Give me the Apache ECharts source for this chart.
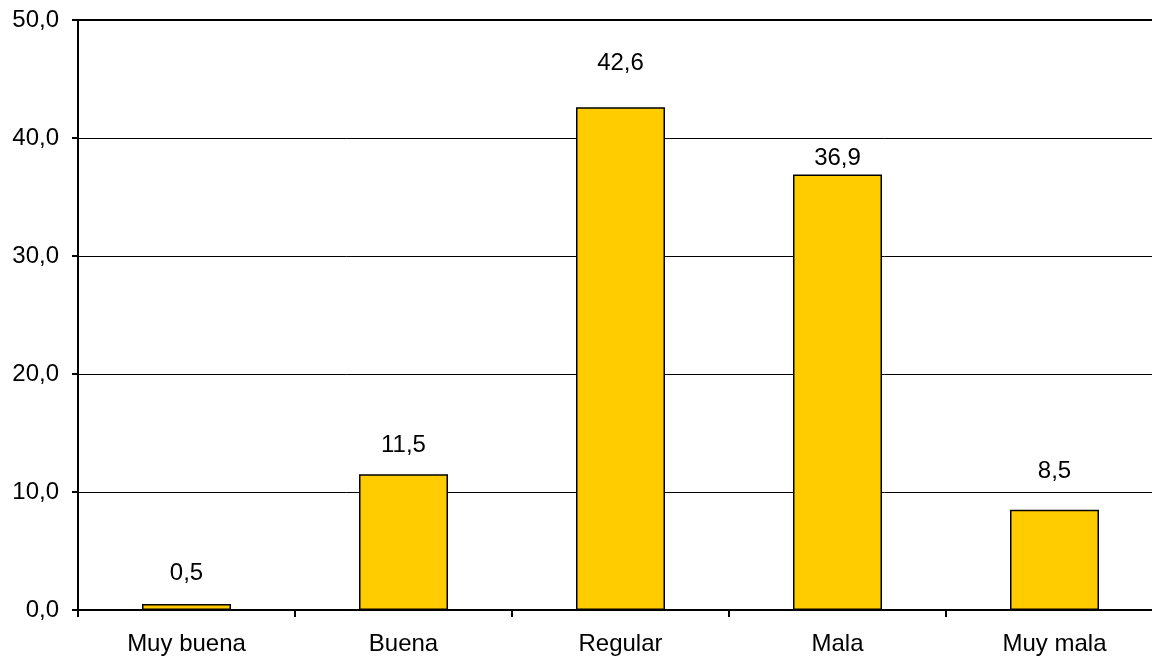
<!DOCTYPE html>
<html>
<head>
<meta charset="utf-8">
<script src="https://cdn.jsdelivr.net/npm/echarts@6/dist/echarts.min.js"></script>
<style>
html,body{margin:0;padding:0;background:#fff;}
#chart{width:1152px;height:665px;}
</style>
</head>
<body>
<div id="chart"></div>
<script>
const categories = ['Muy buena', 'Buena', 'Regular', 'Mala', 'Muy mala'];
const values = [0.5, 11.5, 42.6, 36.9, 8.5];
const yTicks = [0, 10, 20, 30, 40, 50];

const labelGaps = [19, 17, 32, 4, 26];
const FONT = "'Liberation Sans', Arial, sans-serif";
const fmt = v => Number(v).toFixed(1).replace('.', ',');

const chart = echarts.init(document.getElementById('chart'), null, {renderer: 'canvas'});
chart.setOption({
  animation: false,
  backgroundColor: '#fff',
  grid: {
    left: 78, top: 20, width: 1085, bottom: 55,
    outerBoundsMode: 'none',
    containLabel: false,
    show: true, borderColor: '#000', borderWidth: 2, backgroundColor: 'transparent'
  },
  xAxis: {
    type: 'category',
    data: categories,
    axisLine: {lineStyle: {color: '#000', width: 2}},
    axisTick: {show: true, length: 7, lineStyle: {color: '#000', width: 2}},
    axisLabel: {color: '#000', fontFamily: FONT, fontSize: 24, margin: 22}
  },
  yAxis: {
    type: 'value',
    min: yTicks[0], max: yTicks[yTicks.length - 1], interval: 10,
    axisLine: {show: true, lineStyle: {color: '#000', width: 2}},
    axisTick: {show: true, length: 6, lineStyle: {color: '#000', width: 2}},
    splitLine: {show: true, lineStyle: {color: '#000', width: 1}},
    axisLabel: {color: '#000', fontFamily: FONT, fontSize: 24, margin: 19, formatter: fmt}
  },
  series: [{
    type: 'bar',
    barWidth: 89,
    data: values.map((v, i) => ({
      value: v,
      label: {distance: labelGaps[i]}
    })),
    itemStyle: {color: '#FFCC00', borderColor: '#000', borderWidth: 1.5},
    label: {
      show: true, position: 'top', color: '#000', fontFamily: FONT, fontSize: 24,
      formatter: p => fmt(p.value)
    }
  }]
});
</script>
</body>
</html>
